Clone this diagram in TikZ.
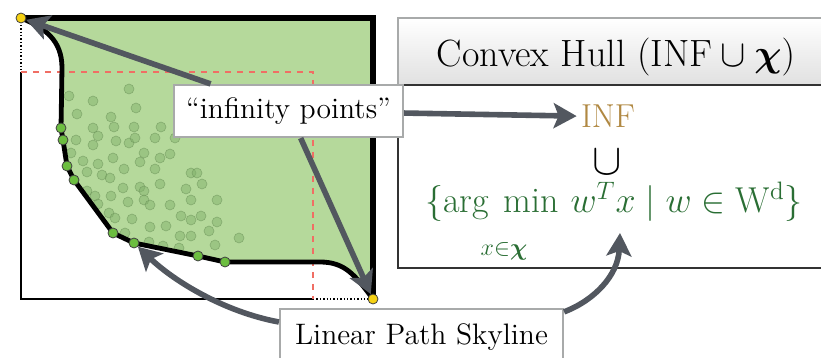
\RequirePackage{fix-cm}
\documentclass[tikz,border=0pt]{standalone}
\usepackage{amsmath,bm}
\usepackage{fontspec}
\usepackage{tikz}
\usetikzlibrary{arrows.meta}

\definecolor{regiongreen}{RGB}{181,217,155}
\definecolor{dotgreen}{RGB}{108,190,64}
\definecolor{cloudgreen}{RGB}{130,178,108}
\definecolor{infyellow}{RGB}{246,210,20}
\definecolor{arrowgray}{RGB}{82,87,95}
\definecolor{boxgray}{RGB}{168,170,170}
\definecolor{infbrown}{RGB}{176,136,66}
\definecolor{setgreen}{RGB}{42,110,52}
\definecolor{linered}{RGB}{240,110,100}

\begin{document}
\begin{tikzpicture}[x=0.5pt, y=-0.5pt,
		bigarrow/.style={draw=arrowgray, line width=2.8pt, -{Stealth[length=11.5pt,width=12.5pt,inset=2.5pt]}},
		labelbox/.style={draw=boxgray, line width=1.1pt, fill=white, inner sep=0pt, font=\fontsize{14.8}{17}\selectfont},
		skydot/.style={circle, draw=black!75, line width=0.4pt, fill=dotgreen, inner sep=0pt, minimum size=5pt},
		infdot/.style={skydot, fill=infyellow},
		clouddot/.style={fill=cloudgreen, draw=cloudgreen!80!black, fill opacity=0.5, draw opacity=0.55, line width=0.3pt},
		bigtext/.style={font=\fontsize{16.6}{20}\selectfont, inner sep=0pt}]
		\useasboundingbox (0,0) rectangle (821,358);
		\clip (0,0) rectangle (821,358);
		% dominated region
		\fill[regiongreen] (21,18) -- (373,18) -- (373,299) .. controls (355,275) and (345,262) .. (320,262) -- (225,262) -- (198,256) -- (134,243) -- (113,233) -- (74,180) -- (67,166) -- (63,140) -- (61,128) -- (62,68) .. controls (62,40) and (45,28) .. cycle;
		% data points
		\foreach \px/\py in {129/89, 69/96, 93/101, 136/108, 77/114, 111/117, 114/127, 93/128, 134/127, 161/127,
			98/136, 76/140, 116/141, 129/143, 135/138, 155/138, 175/138, 93/145, 71/153, 144/153,
			170/154, 160/158, 83/161, 113/158, 140/162, 98/164, 124/169, 155/169, 87/172, 102/175,
			110/178, 191/173, 197/173, 202/184, 160/184, 186/189, 123/188, 140/187, 144/191, 87/191,
			95/196, 111/196, 144/200, 150/205, 128/202, 170/205, 191/200, 217/200, 98/204, 109/213,
			115/218, 132/219, 181/216, 191/220, 201/216, 217/222, 150/227, 166/226, 209/231, 125/233,
			180/236, 191/236, 239/238, 163/246, 149/242, 179/248, 215/245}
			\filldraw[clouddot] (\px,\py) circle (5);
		% frame
		\draw[line width=0.6pt] (21,72) -- (21,299) -- (313,299);
		\draw[line width=0.7pt, densely dotted] (21,18) -- (21,72);
		\draw[line width=0.7pt, densely dotted] (313,299) -- (373,299);
		\draw[linered, dashed, line width=0.6pt] (21,72) -- (313,72) -- (313,299);
		\draw[line width=2.6pt] (21,18) -- (373,18) -- (373,299);
		% skyline
		\draw[line width=2.4pt, line join=round] (21,18) .. controls (45,28) and (62,40) .. (62,68) -- (61,128) -- (63,140) -- (67,166) -- (74,180) -- (113,233) -- (134,243) -- (198,256) -- (225,262) -- (320,262) .. controls (345,262) and (355,275) .. (373,299);
		\foreach \px/\py [count=\i] in {61/128, 63/140, 67/166, 74/180, 113/233, 134/243, 198/256, 225/262}
			\node[skydot] (sky\i) at (\px,\py) {};
		\node[infdot] (infTL) at (21,18) {};
		\node[infdot] (infBR) at (373,299) {};
		% convex hull panel
		\draw[boxgray, line width=1.1pt, top color=white, bottom color=black!12] (398,18) rectangle (840,85);
		\draw[black!80, line width=0.6pt] (398,85) rectangle (840,268);
		\node[bigtext, anchor=base, font=\fontsize{19}{22}\selectfont] (hull) at (616,67) {Convex Hull $(\mathrm{INF}\cup\bm{\chi})$};
		\node[bigtext, anchor=base, text=infbrown, inner sep=2pt] (inf) at (608,128) {INF};
		\node[font=\fontsize{22}{22}\selectfont, anchor=base, inner sep=0pt] (cup) at (607,175) {$\cup$};
		\node[bigtext, anchor=base, text=setgreen, font=\fontsize{18}{21}\selectfont] (argset) at (614,213) {$\{\mathop{\mathrm{arg}\hspace{0.4em}\mathrm{min}}\, w^T x \mid w\in\mathrm{W}^{\mathrm{d}}\}$};
		\node[font=\fontsize{12}{14}\selectfont, text=setgreen, anchor=base, inner sep=0pt] (argsub) at (504,256) {$x\mathord{\in}\bm{\chi}$};
		\coordinate (wtx) at (620,233);
		% labels
		\node[labelbox, minimum width=114.5pt, minimum height=26pt] (infbox) at (288.5,111) {``infinity points''};
		\node[labelbox, minimum width=141.5pt, minimum height=28pt] (skybox) at (421.5,337) {Linear Path Skyline};
		\draw[bigarrow] (infbox) -- (infTL);
		\draw[bigarrow] (infbox) -- (infBR);
		\draw[bigarrow] (infbox) -- (inf);
		\draw[bigarrow] (skybox.174) .. controls (225,312) and (175,282) .. (sky6);
		\draw[bigarrow] (skybox.10) .. controls (595,300) and (618,275) .. (wtx);
	\end{tikzpicture}
\end{document}
